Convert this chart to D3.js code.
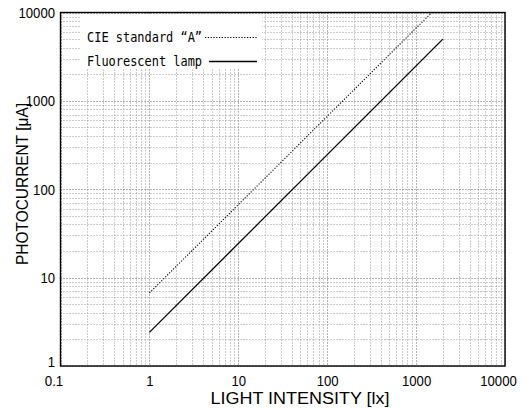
<!DOCTYPE html>
<html>
<head>
<meta charset="utf-8">
<script src="https://cdn.jsdelivr.net/npm/d3@7"></script>
<style>
  body { margin: 0; background: #fff; }
  svg text { font-family: "Liberation Sans", "DejaVu Sans", sans-serif; fill: #000; }
</style>
</head>
<body>
<svg id="chart" width="526" height="410"></svg>
<script>
'use strict';

// values
const xTickValues = [0.1, 1, 10, 100, 1000, 10000];
const xTickLabels = ['0.1', '1', '10', '100', '1000', '10000'];
const yTickValues = [1, 10, 100, 1000, 10000];
const yTickLabels = ['1', '10', '100', '1000', '10000'];

const cieLux = [1, 1500];
const cieCurrent = [6.7, 10000];
const fluorLux = [1, 2000];
const fluorCurrent = [2.4, 5000];

const seriesNames = ['CIE standard \u201CA\u201D', 'Fluorescent lamp'];

const margin = { left: 60.5, right: 505, top: 12.5, bottom: 366 };

const svg = d3.select('#chart');

const x = d3.scaleLog().domain([0.1, 10000]).range([margin.left, margin.right]);
const y = d3.scaleLog().domain([1, 10000]).range([margin.bottom, margin.top]);

const snap = v => Math.round(v) + 0.5;
// narrow, tall digits like the original gothic face
const labelWidth = s => s.replace('.', '').length * 7.3 + (s.includes('.') ? 4 : 0);

// grid
const grid = svg.append('g').attr('class', 'grid');
grid.selectAll('.vx')
    .data(x.ticks())
    .enter()
    .append('line')
    .attr('x1', d => snap(x(d))).attr('x2', d => snap(x(d)))
    .attr('y1', margin.top).attr('y2', margin.bottom)
    .attr('stroke', d => xTickValues.includes(d) ? '#666' : '#999')
    .attr('stroke-width', 1)
    .attr('stroke-dasharray', '1,2');

grid.selectAll('.hy')
    .data(y.ticks())
    .enter()
    .append('line')
    .attr('y1', d => snap(y(d))).attr('y2', d => snap(y(d)))
    .attr('x1', margin.left).attr('x2', margin.right)
    .attr('stroke', d => yTickValues.includes(d) ? '#666' : '#999')
    .attr('stroke-width', 1)
    .attr('stroke-dasharray', '1,2');

// legend box covers the grid
svg.append('rect')
    .attr('x', 80).attr('y', 15)
    .attr('width', 182).attr('height', 54)
    .attr('fill', '#fff');

// series
svg.append('clipPath').attr('id', 'plotClip')
    .append('rect')
    .attr('x', margin.left).attr('y', margin.top)
    .attr('width', margin.right - margin.left)
    .attr('height', margin.bottom - margin.top);

const line = d3.line()
    .x(d => x(d[0]))
    .y(d => y(d[1]));

svg.append('path')
    .datum(d3.zip(cieLux, cieCurrent))
    .attr('clip-path', 'url(#plotClip)')
    .attr('d', line)
    .attr('fill', 'none')
    .attr('stroke', '#000')
    .attr('stroke-width', 1.1)
    .attr('stroke-dasharray', '1.2,1.6');

svg.append('path')
    .datum(d3.zip(fluorLux, fluorCurrent))
    .attr('clip-path', 'url(#plotClip)')
    .attr('d', line)
    .attr('fill', 'none')
    .attr('stroke', '#000')
    .attr('stroke-width', 1.3);

// frame
svg.append('rect')
    .attr('x', margin.left).attr('y', margin.top)
    .attr('width', margin.right - margin.left)
    .attr('height', margin.bottom - margin.top)
    .attr('fill', 'none')
    .attr('stroke', '#000')
    .attr('stroke-width', 1.4);

// axes (labels only)
const xAxis = d3.axisBottom(x)
    .tickValues(xTickValues)
    .tickSize(0)
    .tickFormat((d, i) => xTickLabels[i]);

const gx = svg.append('g')
    .attr('transform', `translate(0, ${margin.bottom})`)
    .call(xAxis);
gx.select('.domain').remove();
gx.selectAll('text')
    .attr('y', 0)
    .attr('dy', 19.5)
    .attr('dx', (d, i) => (i === 0 || i === xTickValues.length - 1) ? -7 : 0)
    .attr('textLength', (d, i) => labelWidth(xTickLabels[i]))
    .attr('lengthAdjust', 'spacingAndGlyphs')
    .style('font-size', '14px')
    .style('font-family', null);

const yAxis = d3.axisLeft(y)
    .tickValues(yTickValues)
    .tickSize(0)
    .tickFormat((d, i) => yTickLabels[i]);

const gy = svg.append('g')
    .attr('transform', `translate(${margin.left}, 0)`)
    .call(yAxis);
gy.select('.domain').remove();
gy.selectAll('text')
    .attr('x', -5.5)
    .attr('dy', (d, i) => i === 0 ? '0.05em' : '0.35em')
    .attr('textLength', (d, i) => labelWidth(yTickLabels[i]))
    .attr('lengthAdjust', 'spacingAndGlyphs')
    .style('font-size', '14px')
    .style('font-family', null);

// axis titles
svg.append('text')
    .attr('x', 300)
    .attr('y', 404)
    .attr('text-anchor', 'middle')
    .attr('textLength', 179)
    .attr('lengthAdjust', 'spacingAndGlyphs')
    .style('font-size', '16px')
    .text('LIGHT INTENSITY [lx]');

svg.append('text')
    .attr('transform', 'translate(28, 184) rotate(-90)')
    .attr('text-anchor', 'middle')
    .attr('textLength', 162)
    .attr('lengthAdjust', 'spacingAndGlyphs')
    .style('font-size', '16px')
    .text('PHOTOCURRENT [\u03BCA]');

// legend
const legend = svg.append('g');
const legendRows = [
    { name: seriesNames[0], baseline: 42, mid: 37.5, x1: 205, dash: '1.2,1.6', w: 1.1 },
    { name: seriesNames[1], baseline: 65.5, mid: 61.5, x1: 209, dash: null, w: 1.3 }
];
legendRows.forEach(r => {
    legend.append('text')
        .attr('x', 87)
        .attr('y', r.baseline)
        .attr('textLength', 115)
        .attr('lengthAdjust', 'spacingAndGlyphs')
        .style('font-family', '"DejaVu Sans Mono", monospace')
        .style('font-size', '14px')
        .text(r.name);
    legend.append('line')
        .attr('x1', r.x1).attr('x2', 257)
        .attr('y1', r.mid).attr('y2', r.mid)
        .attr('stroke', '#000')
        .attr('stroke-width', r.w)
        .attr('stroke-dasharray', r.dash);
});
</script>
</body>
</html>
